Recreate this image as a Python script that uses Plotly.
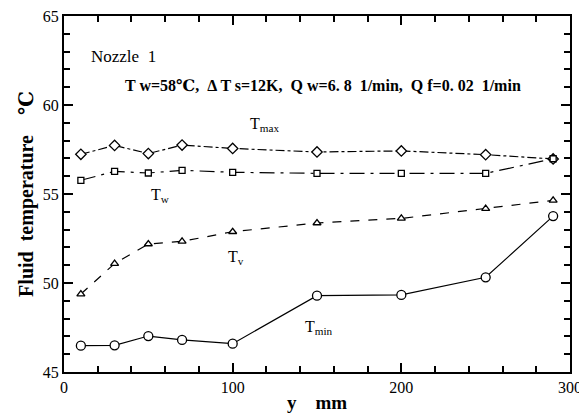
import plotly.graph_objects as go

y_mm = [10, 30, 50, 70, 100, 150, 200, 250, 290]
t_max = [57.23, 57.73, 57.27, 57.75, 57.56, 57.36, 57.42, 57.21, 56.97]
t_w = [55.77, 56.27, 56.18, 56.33, 56.22, 56.16, 56.16, 56.16, 56.98]
t_v = [49.38, 51.09, 52.19, 52.34, 52.88, 53.37, 53.63, 54.18, 54.64]
t_min = [46.48, 46.50, 47.02, 46.80, 46.59, 49.29, 49.33, 50.32, 53.76]

FONT = "Liberation Serif, DejaVu Serif, serif"

fig = go.Figure()

def add(yvals, dash, symbol, size, name):
    fig.add_trace(go.Scatter(
        x=y_mm, y=yvals, mode="lines+markers", name=name,
        line=dict(color="black", width=1.2, dash=dash),
        marker=dict(symbol=symbol, size=size, color="white",
                    line=dict(color="black", width=1.3)),
        showlegend=False, cliponaxis=False))

add(t_max, "dashdot", "diamond", 8, "Tmax")
add(t_w, "longdashdot", "square", 6, "Tw")
add(t_v, "dash", "triangle-up", 7, "Tv")
add(t_min, "solid", "circle", 9, "Tmin")

labels = [
    (119, 58.9, "T<sub>max</sub>"),
    (57, 54.9, "T<sub>w</sub>"),
    (102, 51.45, "T<sub>v</sub>"),
    (151, 47.5, "T<sub>min</sub>"),
]
for x, y, t in labels:
    fig.add_annotation(x=x, y=y, text=t, showarrow=False,
                       font=dict(family=FONT, size=16, color="black"))

fig.add_annotation(xref="paper", yref="paper", x=0.05, y=0.918, xanchor="left",
                   text="Nozzle  1", showarrow=False,
                   font=dict(family=FONT, size=17, color="black"))
fig.add_annotation(xref="paper", yref="paper", x=0.116, y=0.835, xanchor="left",
                   text="<b>T w=58℃,  Δ T s=12K,  Q w=6. 8  1/min,  Q f=0. 02  1/min</b>",
                   showarrow=False,
                   font=dict(family=FONT, size=16, color="black"))

axis_common = dict(showline=True, linecolor="#000000", linewidth=2, mirror="allticks",
                   ticks="inside", tickcolor="#000000", ticklen=9, tickwidth=2,
                   showgrid=False, zeroline=False, automargin=False,
                   ticklabeloverflow="allow",
                   tickfont=dict(family=FONT, size=16, color="black"))

fig.update_xaxes(range=[0, 300], tickmode="linear", tick0=0, dtick=100,
                 minor=dict(ticks="inside", ticklen=6, tickcolor="#000000", tickwidth=2,
                            dtick=20, tick0=0),
                 title=dict(text="<b>y    mm</b>", font=dict(family=FONT, size=19, color="black"),
                            standoff=0),
                 **axis_common)
fig.update_yaxes(range=[45, 65], tickmode="linear", tick0=45, dtick=5,
                 minor=dict(ticks="inside", ticklen=6, tickcolor="#000000", tickwidth=2,
                            dtick=1, tick0=45),
                 title=dict(text="<b>Fluid  temperature    ℃</b>",
                            font=dict(family=FONT, size=20, color="black"), standoff=4),
                 **axis_common)

fig.update_layout(width=579, height=408, margin=dict(l=56, r=17, t=8, b=44),
                  plot_bgcolor="white", paper_bgcolor="white")

fig.write_html("out.html")
